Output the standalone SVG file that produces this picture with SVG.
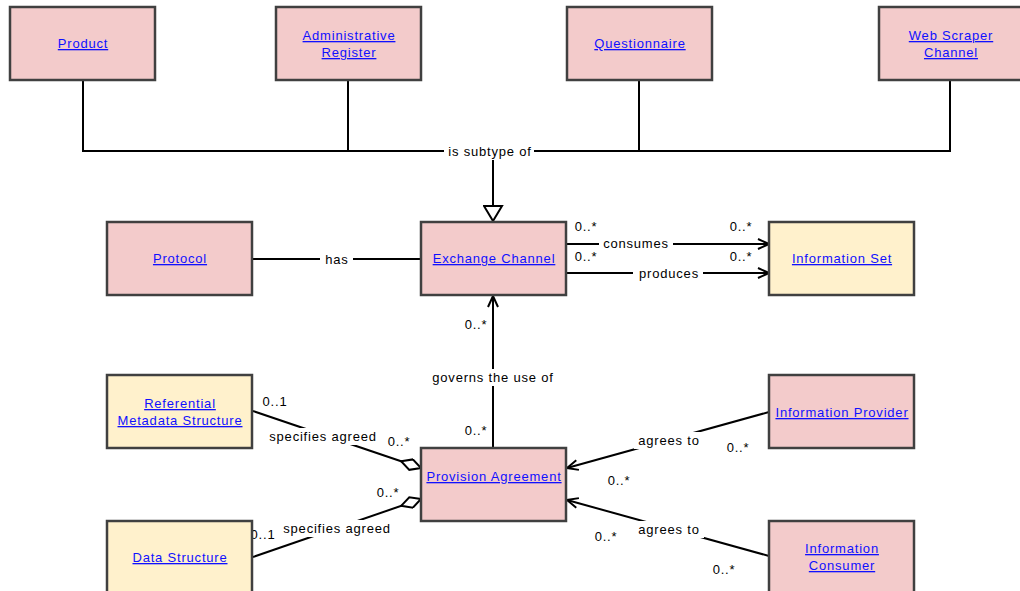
<svg xmlns="http://www.w3.org/2000/svg" width="1020" height="591" viewBox="0 0 1020 591">
<style>
.pink{fill:#F3CBCB;stroke:#404040;stroke-width:2.5}
.yel{fill:#FFF1CC;stroke:#404040;stroke-width:2.5}
.nt{font-family:"Liberation Sans",Arial,sans-serif;font-size:13px;fill:#1010FF;text-decoration:underline;text-anchor:middle;letter-spacing:0.8px}
.lb{font-family:"Liberation Sans",Arial,sans-serif;font-size:13px;fill:#000;text-anchor:middle;letter-spacing:0.8px}
.bg{fill:#fff}
.ln{fill:none;stroke:#000;stroke-width:2}
</style>
<defs>
<marker id="arrow" viewBox="0 0 13 12" refX="12" refY="6" markerWidth="13" markerHeight="12" markerUnits="userSpaceOnUse" orient="auto">
<path d="M1,1 L12,6 L1,11" fill="none" stroke="#000" stroke-width="2"/>
</marker>
<marker id="tri" viewBox="0 0 17 21" refX="16" refY="10.5" markerWidth="17" markerHeight="21" markerUnits="userSpaceOnUse" orient="auto">
<path d="M1,1.5 L16,10.5 L1,19.5 Z" fill="#fff" stroke="#000" stroke-width="2"/>
</marker>
<marker id="dia" viewBox="0 0 23 13" refX="22" refY="6.5" markerWidth="23" markerHeight="13" markerUnits="userSpaceOnUse" orient="auto">
<path d="M1,6.5 L11.5,1 L22,6.5 L11.5,12 Z" fill="#fff" stroke="#000" stroke-width="2"/>
</marker>
</defs>
<rect width="1020" height="591" fill="#fff"/>
<g id="connectors">
<path class="ln" d="M83,80 V151 H950 V80 M348,80 V151 M639,80 V151"/>
<path class="ln" d="M493,151 V221" marker-end="url(#tri)"/>
<path class="ln" d="M253,259 H421"/>
<path class="ln" d="M566,244 H769" marker-end="url(#arrow)"/>
<path class="ln" d="M566,273 H769" marker-end="url(#arrow)"/>
<path class="ln" d="M493,448 V296" marker-end="url(#arrow)"/>
<path class="ln" d="M253,411 L421,468" marker-end="url(#dia)"/>
<path class="ln" d="M253,557 L421,499" marker-end="url(#dia)"/>
<path class="ln" d="M769,412 L567,468" marker-end="url(#arrow)"/>
<path class="ln" d="M769,556 L567,500" marker-end="url(#arrow)"/>
<g id="labels">
<rect class="bg" x="444" y="143" width="90" height="17"/><text class="lb" x="490" y="156">is subtype of</text>
<rect class="bg" x="320" y="251" width="33" height="17"/><text class="lb" x="337" y="264">has</text>
<rect class="bg" x="599" y="236" width="74" height="16"/><text class="lb" x="636" y="248">consumes</text>
<rect class="bg" x="633" y="265" width="70" height="16"/><text class="lb" x="669" y="278">produces</text>
<text class="lb" x="586" y="231">0..*</text>
<text class="lb" x="586" y="261">0..*</text>
<text class="lb" x="741" y="231">0..*</text>
<text class="lb" x="741" y="261">0..*</text>
<rect class="bg" x="429" y="369" width="127" height="17"/><text class="lb" x="493" y="382">governs the use of</text>
<rect class="bg" x="462" y="316" width="26" height="16"/><text class="lb" x="476" y="329">0..*</text>
<rect class="bg" x="462" y="422" width="26" height="16"/><text class="lb" x="476" y="435">0..*</text>
<text class="lb" x="275" y="406">0..1</text>
<rect class="bg" x="265" y="428" width="115" height="17"/><text class="lb" x="323" y="441">specifies agreed</text>
<text class="lb" x="399" y="446">0..*</text>
<text class="lb" x="388" y="497">0..*</text>
<rect class="bg" x="279" y="520" width="115" height="17"/><text class="lb" x="337" y="533">specifies agreed</text>
<rect class="bg" x="250" y="526" width="26" height="16"/><text class="lb" x="263" y="539">0..1</text>
<rect class="bg" x="634" y="432" width="70" height="17"/><text class="lb" x="669" y="445">agrees to</text>
<text class="lb" x="738" y="452">0..*</text>
<text class="lb" x="619" y="485">0..*</text>
<rect class="bg" x="634" y="521" width="70" height="17"/><text class="lb" x="669" y="534">agrees to</text>
<text class="lb" x="606" y="541">0..*</text>
<text class="lb" x="724" y="574">0..*</text>
</g>
</g>
<g id="product"><rect class="pink" x="10" y="7" width="145" height="73"/><text class="nt" x="83" y="48">Product</text></g>
<g id="administrative-register"><rect class="pink" x="276" y="7" width="145" height="73"/><text class="nt" x="349" y="40">Administrative</text><text class="nt" x="349" y="57">Register</text></g>
<g id="questionnaire"><rect class="pink" x="567" y="7" width="145" height="73"/><text class="nt" x="640" y="48">Questionnaire</text></g>
<g id="web-scraper-channel"><rect class="pink" x="879" y="7" width="145" height="73" stroke="#111"/><text class="nt" x="951" y="40">Web Scraper</text><text class="nt" x="951" y="57">Channel</text></g>
<g id="protocol"><rect class="pink" x="107" y="222" width="145" height="73"/><text class="nt" x="180" y="263">Protocol</text></g>
<g id="exchange-channel"><rect class="pink" x="421" y="222" width="145" height="73"/><text class="nt" x="494" y="263">Exchange Channel</text></g>
<g id="information-set"><rect class="yel" x="769" y="222" width="145" height="73"/><text class="nt" x="842" y="263">Information Set</text></g>
<g id="referential-metadata-structure"><rect class="yel" x="107" y="375" width="145" height="73"/><text class="nt" x="180" y="408">Referential</text><text class="nt" x="180" y="425">Metadata Structure</text></g>
<g id="provision-agreement"><rect class="pink" x="421" y="448" width="145" height="73"/><text class="nt" x="494" y="481">Provision Agreement</text></g>
<g id="information-provider"><rect class="pink" x="769" y="375" width="145" height="73"/><text class="nt" x="842" y="417">Information Provider</text></g>
<g id="data-structure"><rect class="yel" x="107" y="521" width="145" height="73"/><text class="nt" x="180" y="562">Data Structure</text></g>
<g id="information-consumer"><rect class="pink" x="769" y="521" width="145" height="73"/><text class="nt" x="842" y="553">Information</text><text class="nt" x="842" y="570">Consumer</text></g>
</svg>
